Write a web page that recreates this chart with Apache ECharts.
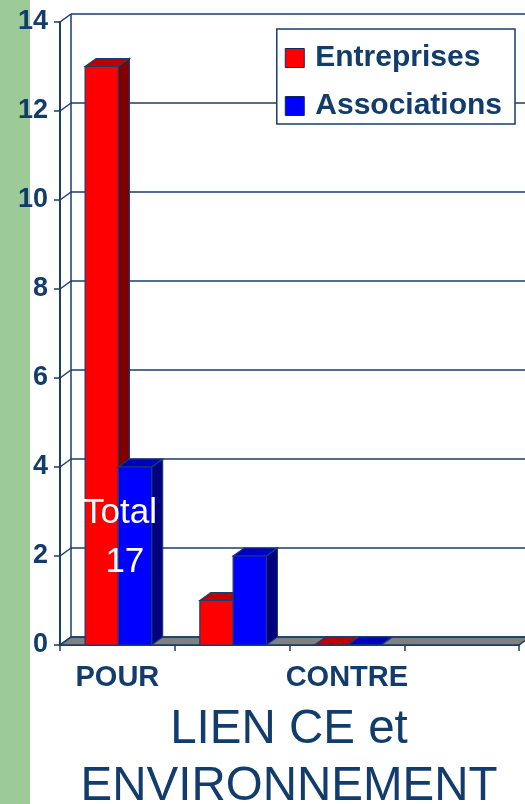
<!DOCTYPE html>
<html>
<head>
<meta charset="utf-8">
<script src="https://cdn.jsdelivr.net/npm/echarts@6/dist/echarts.min.js"></script>
<style>
  html, body { margin: 0; padding: 0; background: #fff; }
  #chart { width: 525px; height: 804px; }
</style>
</head>
<body>
<div id="chart"></div>
<script>
// données
const categories = ['POUR', '', 'CONTRE', ''];
const entreprises = [13, 1, 0];
const associations = [4, 2, 0];
const yTicks = [0, 2, 4, 6, 8, 10, 12, 14];

const NAVY = '#123c6b';
const LINE = '#1a3d6b';
const DX = 11;  // profondeur 3D
const DY = 8;

const chart = echarts.init(document.getElementById('chart'));

// murs + sol en perspective
function renderWall(params, api) {
  const v = api.value(1);
  const cs = params.coordSys;
  const x0 = cs.x;
  const right = cs.x + cs.width;
  const y = api.coord([0, v])[1];
  const lineStyle = { stroke: LINE, lineWidth: 1.5 };
  const children = [
    { type: 'line', shape: { x1: x0, y1: y, x2: x0 + DX, y2: y - DY }, style: lineStyle },
    { type: 'line', shape: { x1: x0 + DX, y1: y - DY, x2: right + DX + 20, y2: y - DY }, style: lineStyle }
  ];
  if (v === 0) {
    const yTop = api.coord([0, yTicks[yTicks.length - 1]])[1];
    children.unshift({
      type: 'polygon',
      shape: { points: [[x0, y], [right, y], [right + DX, y - DY], [x0 + DX, y - DY]] },
      style: { fill: '#808080', stroke: LINE, lineWidth: 1.5 }
    });
    children.push({ type: 'line', shape: { x1: x0 + DX, y1: y - DY, x2: x0 + DX, y2: yTop - DY }, style: lineStyle });
  }
  return { type: 'group', children };
}

function makeBarRenderer(side, colors) {
  return function (params, api) {
    const i = api.value(0);
    const v = api.value(1);
    const top = api.coord([i, v]);
    const base = api.coord([i, 0]);
    const bw = api.size([1, 0])[0] * 0.29;
    const x = side === 0 ? top[0] - bw + 1 : top[0] + 1;
    const yT = top[1];
    const yB = base[1];
    const stroke = { stroke: LINE, lineWidth: 1.2 };
    return {
      type: 'group',
      children: [
        {
          type: 'polygon',
          shape: { points: [[x + bw, yT], [x + bw + DX, yT - DY], [x + bw + DX, yB - DY], [x + bw, yB]] },
          style: Object.assign({ fill: colors.side }, stroke)
        },
        {
          type: 'polygon',
          shape: { points: [[x, yT], [x + DX, yT - DY], [x + bw + DX, yT - DY], [x + bw, yT]] },
          style: Object.assign({ fill: colors.top }, stroke)
        },
        {
          type: 'rect',
          shape: { x: x, y: yT, width: bw, height: yB - yT },
          style: Object.assign({ fill: colors.front }, stroke)
        }
      ]
    };
  };
}

const option = {
  animation: false,
  title: {
    text: 'LIEN CE et\nENVIRONNEMENT',
    left: 284,
    top: 696,
    textAlign: 'center',
    textStyle: {
      fontFamily: 'Liberation Sans, Arial, sans-serif',
      fontSize: 47.5,
      fontWeight: 'normal',
      color: NAVY,
      lineHeight: 57
    }
  },
  legend: {
    orient: 'vertical',
    right: 10,
    top: 29,
    backgroundColor: '#fff',
    borderColor: LINE,
    borderWidth: 1.5,
    borderRadius: 0,
    padding: [12, 13, 1, 8],
    itemGap: 14,
    itemWidth: 19,
    itemHeight: 19,
    icon: 'rect',
    itemStyle: { borderColor: '#0b2a5a', borderWidth: 1 },
    textStyle: {
      fontFamily: 'Liberation Sans, Arial, sans-serif',
      fontSize: 30,
      lineHeight: 34,
      fontWeight: 'bold',
      color: NAVY,
      padding: [0, 0, 0, 6]
    },
    data: ['Entreprises', 'Associations'],
    z: 20
  },
  grid: { left: 60, right: 6, top: 22, bottom: 159 },
  xAxis: {
    type: 'category',
    data: categories,
    axisLine: { lineStyle: { color: LINE, width: 2 } },
    axisTick: { show: true, length: 6, lineStyle: { color: LINE, width: 1.5 } },
    axisLabel: {
      interval: 0,
      margin: 18,
      fontFamily: 'Liberation Sans, Arial, sans-serif',
      fontSize: 29,
      fontWeight: 'bold',
      color: NAVY
    }
  },
  yAxis: {
    type: 'value',
    min: 0,
    max: 14,
    interval: 2,
    axisLine: { show: true, lineStyle: { color: LINE, width: 2 } },
    axisTick: { show: true, length: 6, lineStyle: { color: LINE, width: 1.5 } },
    splitLine: { show: false },
    axisLabel: {
      margin: 12,
      fontFamily: 'Liberation Sans, Arial, sans-serif',
      fontSize: 27,
      fontWeight: 'bold',
      color: NAVY
    }
  },
  series: [
    {
      type: 'custom',
      name: 'walls',
      renderItem: renderWall,
      data: yTicks.map(v => [0, v]),
      z: 1,
      silent: true
    },
    {
      type: 'custom',
      name: 'Entreprises',
      itemStyle: { color: '#ff0000' },
      renderItem: makeBarRenderer(0, { front: '#ff0000', top: '#c00000', side: '#800000' }),
      data: entreprises.map((v, i) => [i, v]),
      z: 3
    },
    {
      type: 'custom',
      name: 'Associations',
      itemStyle: { color: '#0000ff' },
      renderItem: makeBarRenderer(1, { front: '#0000ff', top: '#0000c0', side: '#000080' }),
      data: associations.map((v, i) => [i, v]),
      z: 4
    }
  ],
  graphic: [
    {
      type: 'rect',
      left: 0,
      top: 0,
      shape: { width: 30, height: 804 },
      style: { fill: '#9ccb98' },
      z: -10
    },
    {
      type: 'text',
      x: 120,
      y: 489,
      z: 50,
      style: {
        text: 'Total\n ' + (entreprises[0] + associations[0]),
        fill: '#fff',
        fontFamily: 'Liberation Sans, Arial, sans-serif',
        fontSize: 35,
        lineHeight: 49,
        textAlign: 'center',
        textVerticalAlign: 'top'
      }
    }
  ]
};

chart.setOption(option);
</script>
</body>
</html>
